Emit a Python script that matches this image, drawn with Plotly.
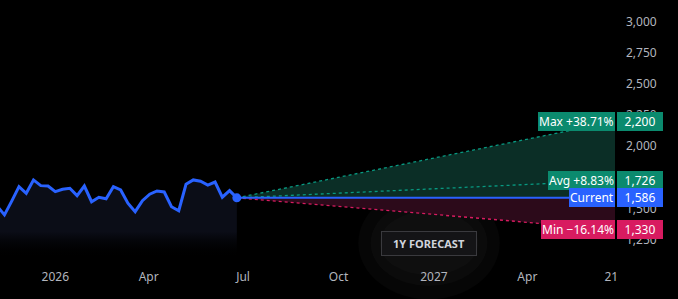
import plotly.graph_objects as go
import pandas as pd

# ---- data ----
hist_end = "2026-06-25"
hist_values = [1520, 1449, 1560, 1676, 1623, 1730, 1684, 1681, 1636, 1655,
               1663, 1604, 1681, 1555, 1591, 1579, 1676, 1649, 1543, 1475,
               1563, 1615, 1641, 1633, 1515, 1483, 1695, 1730, 1719, 1689,
               1713, 1591, 1644, 1586]
hist_dates = pd.date_range(end=hist_end, periods=len(hist_values), freq="7D")

forecast_dates = ["2026-06-25", "2027-06-25"]
current_price = 1586
forecast_max = 2200
forecast_avg = 1726
forecast_min = 1330

x_tick_vals = ["2026-01-01", "2026-04-01", "2026-07-01", "2026-10-01",
               "2027-01-01", "2027-04-01", "2027-06-21"]
x_tick_text = ["2026", "Apr", "Jul", "Oct", "2027", "Apr", "21"]
y_tick_vals = [1250, 1500, 1750, 2000, 2250, 2500, 2750, 3000]

# ---- style ----
BLUE = "#2962ff"
GREEN = "#089981"
GREEN_LBL = "#0b8a6e"
RED = "#d81b60"
GREEN_FILL = "#0b2e26"
RED_FILL = "#2c0a1a"
TXT = "#b2b5be"
FONT = "Noto Sans"

fig = go.Figure()

# history with gradient fill
fig.add_trace(go.Scatter(
    x=hist_dates, y=hist_values, mode="lines",
    line=dict(color=BLUE, width=3),
    fill="tozeroy",
    fillgradient=dict(type="vertical",
                      colorscale=[[0, "rgba(0,0,0,0)"], [0.64, "rgba(0,0,0,0)"],
                                  [0.76, "#0b0d17"], [1, "#0b0d17"]]),
    hoverinfo="skip", showlegend=False))

cur_line = [current_price, current_price]
# green cone
fig.add_trace(go.Scatter(x=forecast_dates, y=cur_line, mode="lines",
                         line=dict(width=0), hoverinfo="skip", showlegend=False))
fig.add_trace(go.Scatter(x=forecast_dates, y=[current_price, forecast_max], mode="lines",
                         line=dict(width=0), fill="tonexty", fillcolor=GREEN_FILL,
                         hoverinfo="skip", showlegend=False))
# red cone
fig.add_trace(go.Scatter(x=forecast_dates, y=cur_line, mode="lines",
                         line=dict(width=0), hoverinfo="skip", showlegend=False))
fig.add_trace(go.Scatter(x=forecast_dates, y=[current_price, forecast_min], mode="lines",
                         line=dict(width=0), fill="tonexty", fillcolor=RED_FILL,
                         hoverinfo="skip", showlegend=False))

# dotted lines
for val, col in [(forecast_max, GREEN), (forecast_avg, GREEN), (forecast_min, RED)]:
    fig.add_trace(go.Scatter(x=forecast_dates, y=[current_price, val], mode="lines",
                             line=dict(color=col, width=1.3, dash="dot"),
                             hoverinfo="skip", showlegend=False))

# current line
fig.add_trace(go.Scatter(x=forecast_dates, y=cur_line, mode="lines",
                         line=dict(color=BLUE, width=2), hoverinfo="skip", showlegend=False))
# current point
fig.add_trace(go.Scatter(x=[hist_dates[-1]], y=[hist_values[-1]], mode="markers",
                         marker=dict(color=BLUE, size=9), hoverinfo="skip", showlegend=False))


def pct(v):
    p = (v / current_price - 1) * 100
    return ("+" if p >= 0 else "\u2212") + f"{abs(p):.2f}%"


labels = [
    (forecast_max, f"Max {pct(forecast_max)}", GREEN_LBL),
    (forecast_avg, f"Avg {pct(forecast_avg)}", GREEN_LBL),
    (current_price, "Current", BLUE),
    (forecast_min, f"Min {pct(forecast_min)}", RED),
]
annotations = []
for val, txt, col in labels:
    annotations.append(dict(
        x=1, xref="paper", y=val, yref="y", xanchor="right", yanchor="middle",
        text=txt, showarrow=False, bgcolor=col, borderwidth=0, borderpad=1,
        font=dict(family=FONT, size=12, color="#ffffff"), xshift=0))
    annotations.append(dict(
        x=1, xref="paper", y=val, yref="y", xanchor="left", yanchor="middle",
        text=f"{val:,}", showarrow=False, bgcolor=col, borderwidth=0, borderpad=1,
        width=44, align="center",
        font=dict(family=FONT, size=12, color="#ffffff"), xshift=2))

# badge
BX, BY = 0.6976, 0.093
annotations.append(dict(
    x=BX, xref="paper", y=BY, yref="paper", xanchor="center", yanchor="middle",
    text="<b>1Y FORECAST</b>", showarrow=False, bgcolor="#141416",
    bordercolor="#3a3a3e", borderwidth=1, borderpad=4, width=86,
    font=dict(family=FONT, size=11, color="#d1d4dc")))

shapes = []
for (dx, dy, c) in [(0.115, 0.21, "rgba(255,255,255,0.022)"),
                    (0.095, 0.16, "rgba(255,255,255,0.022)"),
                    (0.08, 0.12, "rgba(255,255,255,0.018)")]:
    shapes.append(dict(type="circle", xref="paper", yref="paper",
                       x0=BX - dx, x1=BX + dx, y0=BY - dy, y1=BY + dy,
                       fillcolor=c, line=dict(width=0), layer="below"))

fig.update_layout(
    width=678, height=299,
    margin=dict(l=0, r=63, t=0, b=31),
    paper_bgcolor="#000000", plot_bgcolor="rgba(0,0,0,0)",
    showlegend=False,
    font=dict(family=FONT, size=12, color=TXT),
    xaxis=dict(type="date", range=["2025-11-08 17:00", "2027-06-24 12:00"],
               tickvals=x_tick_vals, ticktext=x_tick_text,
               showgrid=False, zeroline=False, showline=False, ticks="",
               tickfont=dict(family=FONT, size=12, color=TXT)),
    yaxis=dict(side="right", range=[1023, 3174], tickvals=y_tick_vals,
               tickformat=",", showgrid=False, zeroline=False, showline=False,
               ticks="", ticklabelstandoff=10,
               tickfont=dict(family=FONT, size=12, color=TXT)),
    annotations=annotations,
    shapes=shapes,
)

fig.write_html("out.html")
